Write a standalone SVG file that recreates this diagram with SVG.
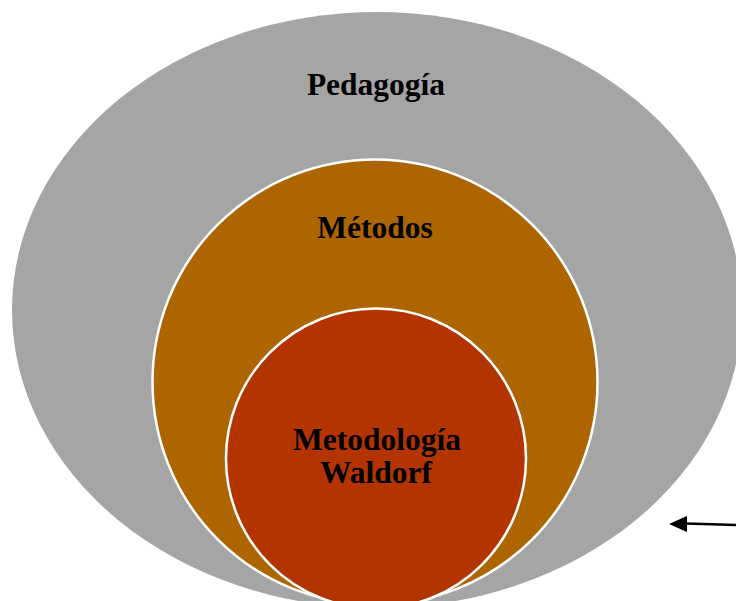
<svg xmlns="http://www.w3.org/2000/svg" width="736" height="601" viewBox="0 0 736 601">
  <defs>
    <style>
      .lbl { font-family: "Liberation Serif", "Times New Roman", serif; font-weight: bold; font-size: 31.5px; fill: #000; text-anchor: middle; }
      .ring { stroke: #ffffff; stroke-width: 2.5; }
    </style>
    <marker id="arrow" viewBox="0 0 18 16" refX="0" refY="8" markerWidth="18" markerHeight="16" markerUnits="userSpaceOnUse" orient="auto-start-reverse">
      <path d="M0,0 L18,8 L0,16 Z" fill="#000"/>
    </marker>
  </defs>
  <rect width="736" height="601" fill="#ffffff"/>
  <g id="pedagogia">
    <ellipse cx="377" cy="310" rx="365" ry="298" fill="#A5A5A5"/>
    <text class="lbl" x="376" y="95">Pedagogía</text>
  </g>
  <g id="metodos">
    <circle class="ring" cx="375" cy="382" r="222.5" fill="#AD6500"/>
    <text class="lbl" x="375" y="238">Métodos</text>
  </g>
  <g id="waldorf">
    <circle class="ring" cx="376" cy="458.5" r="150" fill="#B43400"/>
    <text class="lbl" x="377" y="450">Metodología</text>
    <text class="lbl" x="376" y="483">Waldorf</text>
  </g>
  <g id="connectors">
    <line x1="736" y1="525" x2="686" y2="523.5" stroke="#000" stroke-width="2.5"/>
    <path d="M669,524 L687,516 L687,532 Z" fill="#000"/>
  </g>
</svg>
